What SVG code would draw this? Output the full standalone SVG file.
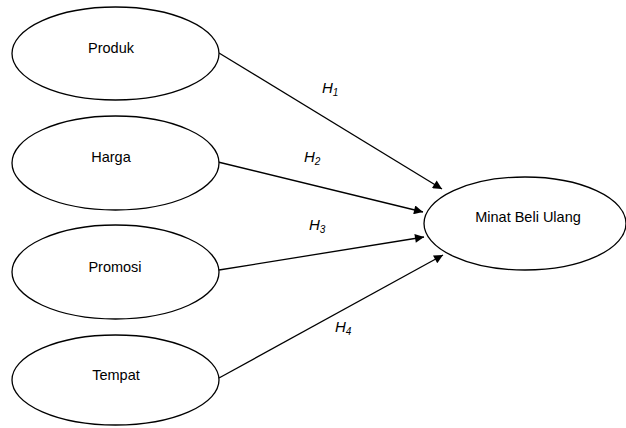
<svg xmlns="http://www.w3.org/2000/svg" width="626" height="428" viewBox="0 0 626 428">
<defs>
<marker id="arr" viewBox="0 0 10 10" refX="10" refY="5" markerWidth="10" markerHeight="9" markerUnits="userSpaceOnUse" orient="auto">
<path d="M0,0 L10,5 L0,10 Z" fill="#000"/>
</marker>
<style>
.n{fill:#fff;stroke:#000;stroke-width:1.3}
.t{font-family:"Liberation Sans",Arial,sans-serif;font-size:14.5px;text-anchor:middle;fill:#000}
.h{font-family:"Liberation Sans",Arial,sans-serif;font-size:15px;font-style:italic;fill:#000}
.s{font-size:10px}
.c{stroke:#000;stroke-width:1.3;fill:none;marker-end:url(#arr)}
</style>
</defs>
<rect width="626" height="428" fill="#fff"/>
<g id="connectors">
<line class="c" x1="219" y1="53" x2="442" y2="189"/>
<line class="c" x1="218" y1="162" x2="423" y2="212"/>
<line class="c" x1="219" y1="270" x2="424" y2="237"/>
<line class="c" x1="219" y1="378" x2="443" y2="255"/>
</g>
<g id="labels">
<text class="h" x="322" y="93">H<tspan class="s" dy="3">1</tspan></text>
<text class="h" x="304" y="162">H<tspan class="s" dy="3">2</tspan></text>
<text class="h" x="309" y="230">H<tspan class="s" dy="3">3</tspan></text>
<text class="h" x="335" y="332">H<tspan class="s" dy="3">4</tspan></text>
</g>
<g id="produk">
<ellipse class="n" cx="115.5" cy="53.5" rx="103.5" ry="46.5"/>
<text class="t" x="111" y="53">Produk</text>
</g>
<g id="harga">
<ellipse class="n" cx="115.5" cy="163" rx="103.5" ry="47"/>
<text class="t" x="111" y="162">Harga</text>
</g>
<g id="promosi">
<ellipse class="n" cx="115.5" cy="272" rx="103.5" ry="47"/>
<text class="t" x="115" y="272">Promosi</text>
</g>
<g id="tempat">
<ellipse class="n" cx="115.5" cy="380" rx="103.5" ry="45"/>
<text class="t" x="116" y="380">Tempat</text>
</g>
<g id="minat">
<ellipse class="n" cx="525" cy="223.5" rx="101" ry="46.5"/>
<text class="t" x="528" y="222">Minat Beli Ulang</text>
</g>
</svg>
